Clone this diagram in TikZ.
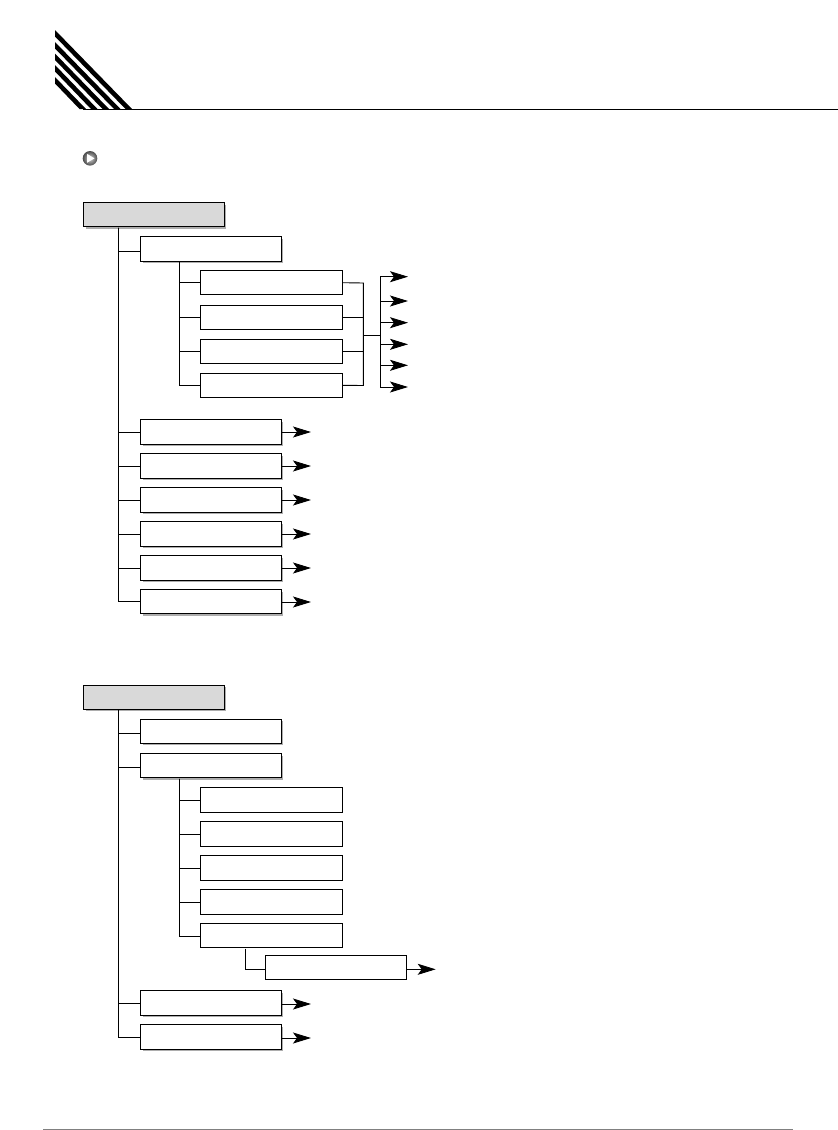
\documentclass[tikz,border=0pt]{standalone}
\usepackage{tikz}
\usetikzlibrary{arrows.meta,shadows}
\definecolor{hdrgray}{gray}{.85}
\definecolor{shdgray}{gray}{.68}
\tikzset{
  wire/.style={line width=.9pt},
  tip/.style={line width=.9pt,-{Stealth[length=18pt,width=11pt,inset=4pt]}},
  plainbox/.style={draw,line width=1pt,fill=white,minimum width=141.3pt,minimum height=24.3pt,inner sep=0pt},
  shdbox/.style={plainbox,minimum width=140.8pt,general shadow={shadow xshift=2pt,shadow yshift=-2pt,fill=shdgray}},
  hdrbox/.style={shdbox,fill=hdrgray},
  stripe/.style={fill=black,draw=none},
}
\begin{document}
\begin{tikzpicture}[x=1pt,y=-1pt]
\useasboundingbox (0,0) rectangle (838,1130);
% page head
\fill[stripe] (55,30) -- (55,36.5) -- (125.5,109) -- (132,109) -- cycle;
\fill[stripe] (55,42) -- (55,48.5) -- (114,109) -- (120.5,109) -- cycle;
\fill[stripe] (55,53.5) -- (55,60) -- (102.5,109) -- (109,109) -- cycle;
\fill[stripe] (55,65) -- (55,71.5) -- (91,109) -- (97.5,109) -- cycle;
\fill[stripe] (55,77) -- (55,83.5) -- (79.5,109) -- (86,109) -- cycle;
\coordinate (ruleL) at (83,109.5);
\coordinate (ruleR) at (838,109.5);
\draw[line width=1pt] (ruleL) -- (ruleR);
\coordinate (footL) at (43,1129.3);
\coordinate (footR) at (793,1129.3);
\draw[line width=1.3pt,gray] (footL) -- (footR);
% bullet
\shade[inner color=gray!35,outer color=black!70] (90,158.3) circle (7.3);
\fill[white] (87,153.8) -- (94.5,158.3) -- (87,162.8) -- cycle;
% first tree
\node[hdrbox] (h1) at (154,214.8) {};
\node[shdbox] (a1) at (211,249) {};
\node[plainbox] (a1s1) at (271.5,282.7) {};
\node[plainbox] (a1s2) at (271.5,317.2) {};
\node[plainbox] (a1s3) at (271.5,351.3) {};
\node[plainbox] (a1s4) at (271.5,385.3) {};
\node[shdbox] (a2) at (211,432) {};
\node[shdbox] (a3) at (211,466) {};
\node[shdbox] (a4) at (211,500) {};
\node[shdbox] (a5) at (211,534) {};
\node[shdbox] (a6) at (211,568) {};
\node[shdbox] (a7) at (211,601.8) {};
\coordinate (tr1) at (118.6,227.5);
\coordinate (tr2) at (179.3,261.5);
\coordinate (jn1) at (363.3,283);
\coordinate (jn2) at (363.3,385.5);
\coordinate (jn3) at (363.3,335.3);
\coordinate (jn4) at (380.3,335.3);
\draw[wire] (tr1) |- ([yshift=-2pt]a1.west);
\draw[wire] (tr1) |- (a2.west);
\draw[wire] (tr1) |- (a3.west);
\draw[wire] (tr1) |- (a4.west);
\draw[wire] (tr1) |- (a5.west);
\draw[wire] (tr1) |- (a6.west);
\draw[wire] (tr1) |- (a7.west);
\draw[wire] (tr2) |- (a1s1.west);
\draw[wire] (tr2) |- (a1s2.west);
\draw[wire] (tr2) |- (a1s3.west);
\draw[wire] (tr2) |- (a1s4.west);
\draw[wire] (a1s1.east) -- (jn1) -- (jn2) -- (a1s4.east);
\draw[wire] (a1s2.east) -- (a1s2.east -| jn1);
\draw[wire] (a1s3.east) -- (a1s3.east -| jn1);
\draw[wire] (jn3) -- (jn4);
\coordinate (o1) at (408,276.7);
\coordinate (o2) at (408,301);
\coordinate (o3) at (408,322.7);
\coordinate (o4) at (408,344.3);
\coordinate (o5) at (408,365.3);
\coordinate (o6) at (408,387);
\draw[tip] (jn4) |- (o1);
\draw[tip] (jn4) |- (o2);
\draw[tip] (jn4) |- (o3);
\draw[tip] (jn4) |- (o4);
\draw[tip] (jn4) |- (o5);
\draw[tip] (jn4) |- (o6);
\coordinate (e2) at (311,432);
\coordinate (e3) at (311,466);
\coordinate (e4) at (311,500);
\coordinate (e5) at (311,534);
\coordinate (e6) at (311,568);
\coordinate (e7) at (311,602);
\draw[tip] (a2.east) -- (e2);
\draw[tip] (a3.east) -- (e3);
\draw[tip] (a4.east) -- (e4);
\draw[tip] (a5.east) -- (e5);
\draw[tip] (a6.east) -- (e6);
\draw[tip] (a7.east |- e7) -- (e7);
% second tree
\node[hdrbox] (h2) at (154,697.3) {};
\node[shdbox] (b1) at (211,731.3) {};
\node[shdbox] (b2) at (211,765.7) {};
\node[plainbox] (b2s1) at (271.5,800) {};
\node[plainbox] (b2s2) at (271.5,834) {};
\node[plainbox] (b2s3) at (271.5,868) {};
\node[plainbox] (b2s4) at (271.5,902) {};
\node[plainbox] (b2s5) at (271.5,935.8) {};
\node[plainbox] (b2t) at (335.8,967.8) {};
\node[shdbox] (b3) at (211,1003) {};
\node[shdbox] (b4) at (211,1037) {};
\coordinate (tr3) at (118.6,709.5);
\coordinate (tr4) at (179.3,778.5);
\coordinate (tr5) at (245.3,948.5);
\draw[wire] (tr3) |- ([yshift=-2pt]b1.west);
\draw[wire] (tr3) |- ([yshift=-2pt]b2.west);
\draw[wire] (tr3) |- (b3.west);
\draw[wire] (tr3) |- (b4.west);
\draw[wire] (tr4) |- (b2s1.west);
\draw[wire] (tr4) |- (b2s2.west);
\draw[wire] (tr4) |- (b2s3.west);
\draw[wire] (tr4) |- (b2s4.west);
\draw[wire] (tr4) |- ([yshift=-1pt]b2s5.west);
\draw[wire] (tr5) |- ([yshift=-1.5pt]b2t.west);
\coordinate (e8) at (435.7,969.3);
\coordinate (e9) at (311,1004);
\coordinate (e10) at (311,1038);
\draw[tip] ([yshift=-1.5pt]b2t.east) -- (e8);
\draw[tip] (b3.east |- e9) -- (e9);
\draw[tip] (b4.east |- e10) -- (e10);
\end{tikzpicture}
\end{document}
